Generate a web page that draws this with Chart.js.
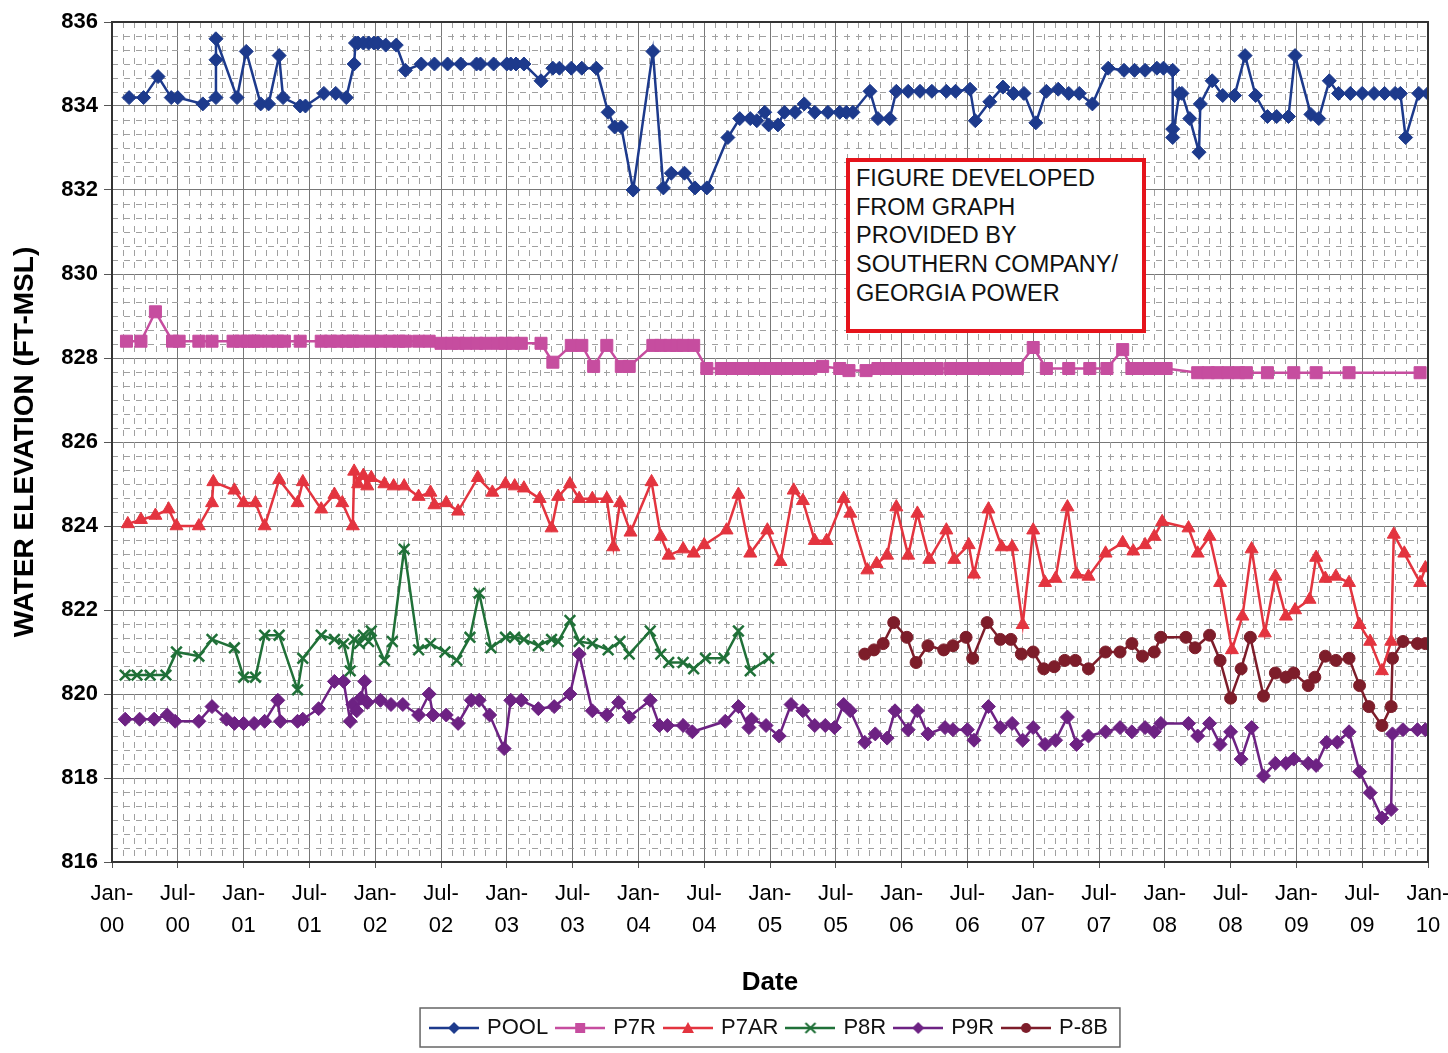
<!DOCTYPE html>
<html>
<head>
<meta charset="utf-8">
<title>Water elevation</title>
<script src="https://cdn.jsdelivr.net/npm/chart.js@4.4.1/dist/chart.umd.min.js"></script>
<style>
  body { margin: 0; background: #fff; }
  #wrap { position: relative; width: 1448px; height: 1053px; }
  #note {
    position: absolute; left: 846px; top: 158px; width: 300px; height: 175px;
    box-sizing: border-box; border: 4px solid #e5131b; background: #fff;
    font: 23.5px 'Liberation Sans', Arial, sans-serif; line-height: 28.7px;
    padding: 2px 0 0 6px; color: #111; white-space: nowrap;
  }
</style>
</head>
<body>
<div id="wrap">
  <canvas id="levelChart"></canvas>
  <div id="note">FIGURE DEVELOPED<br>FROM GRAPH<br>PROVIDED BY<br>SOUTHERN COMPANY/<br>GEORGIA POWER</div>
</div>
<script>
// dates are decimal years, levels are ft-MSL
const poolDates = [2000.13, 2000.24, 2000.35, 2000.45, 2000.50, 2000.69, 2000.79, 2000.79, 2000.79, 2000.95,
  2001.02, 2001.13, 2001.19, 2001.27, 2001.30, 2001.43, 2001.47, 2001.61, 2001.70, 2001.78,
  2001.84, 2001.85, 2001.87, 2001.91, 2001.95, 2001.99, 2002.02, 2002.08, 2002.16, 2002.23,
  2002.35, 2002.45, 2002.55, 2002.65, 2002.77, 2002.80, 2002.90, 2003.00, 2003.03, 2003.07, 2003.13,
  2003.26, 2003.35, 2003.40, 2003.49, 2003.57, 2003.68, 2003.77, 2003.82, 2003.87, 2003.96,
  2004.11, 2004.19, 2004.25, 2004.35, 2004.43, 2004.52,
  2004.68, 2004.77, 2004.85, 2004.90, 2004.96, 2004.99, 2005.06, 2005.11,
  2005.19, 2005.26, 2005.34, 2005.44, 2005.53, 2005.58, 2005.63,
  2005.76, 2005.82, 2005.91, 2005.96,
  2006.05, 2006.14, 2006.23, 2006.34, 2006.41,
  2006.52, 2006.56, 2006.67, 2006.77, 2006.85, 2006.93,
  2007.02, 2007.10, 2007.19, 2007.27, 2007.35, 2007.45,
  2007.57, 2007.69, 2007.77, 2007.85, 2007.94, 2007.99,
  2008.06, 2008.06, 2008.06,
  2008.11, 2008.13, 2008.19, 2008.26, 2008.27, 2008.36, 2008.44, 2008.53,
  2008.61, 2008.69, 2008.78, 2008.85, 2008.94, 2008.99,
  2009.11, 2009.17, 2009.25, 2009.32,
  2009.41, 2009.50, 2009.59, 2009.67, 2009.75, 2009.79,
  2009.83, 2009.93, 2010.00];
const poolLevels = [834.2, 834.2, 834.7, 834.2, 834.2, 834.05, 834.2, 835.1, 835.6, 834.2,
  835.3, 834.05, 834.05, 835.2, 834.2, 834.0, 834.0, 834.3, 834.3, 834.2,
  835.0, 835.5, 835.5, 835.5, 835.5, 835.5, 835.5, 835.45, 835.45, 834.85,
  835.0, 835.0, 835.0, 835.0, 835.0, 835.0, 835.0, 835.0, 835.0, 835.0, 835.0,
  834.6, 834.9, 834.9, 834.9, 834.9, 834.9, 833.85, 833.5, 833.5, 832.0,
  835.3, 832.05, 832.4, 832.4, 832.05, 832.05,
  833.25, 833.7, 833.7, 833.65, 833.85, 833.55, 833.55, 833.85,
  833.85, 834.05, 833.85, 833.85, 833.85, 833.85, 833.85,
  834.35, 833.7, 833.7, 834.35,
  834.35, 834.35, 834.35, 834.35, 834.35,
  834.4, 833.65, 834.1, 834.45, 834.3, 834.3,
  833.6, 834.35, 834.4, 834.3, 834.3, 834.05,
  834.9, 834.85, 834.85, 834.85, 834.9, 834.9,
  834.85, 833.45, 833.25,
  834.3, 834.3, 833.7, 832.9, 834.05, 834.6, 834.25, 834.25,
  835.2, 834.25, 833.75, 833.75, 833.75, 835.2,
  833.8, 833.7, 834.6, 834.3,
  834.3, 834.3, 834.3, 834.3, 834.3, 834.3,
  833.25, 834.3, 834.3];

const p7rDates = [2000.11, 2000.22, 2000.33, 2000.46, 2000.51, 2000.66, 2000.76, 2000.92, 2000.98,
  2001.03, 2001.08, 2001.11, 2001.19, 2001.26, 2001.31, 2001.43, 2001.59, 2001.66, 2001.72, 2001.78, 2001.83, 2001.89, 2001.98,
  2002.04, 2002.11, 2002.18, 2002.23, 2002.33, 2002.41,
  2002.50, 2002.58, 2002.63, 2002.69, 2002.77, 2002.84, 2002.93, 2002.99, 2003.05, 2003.11, 2003.26,
  2003.35, 2003.49, 2003.57, 2003.66, 2003.76, 2003.87, 2003.93,
  2004.11, 2004.17, 2004.24, 2004.29, 2004.34, 2004.42, 2004.52,
  2004.63, 2004.71, 2004.78, 2004.86, 2004.93, 2005.01, 2005.09, 2005.16, 2005.24, 2005.31,
  2005.40, 2005.53, 2005.60, 2005.73,
  2005.82, 2005.91, 2006.00, 2006.09, 2006.18, 2006.27, 2006.37, 2006.46, 2006.55, 2006.64, 2006.73, 2006.82, 2006.88,
  2007.00, 2007.10, 2007.27, 2007.43, 2007.56, 2007.68, 2007.75, 2007.84, 2007.93, 2008.01,
  2008.25, 2008.33, 2008.40, 2008.48, 2008.56, 2008.62, 2008.78, 2008.98, 2009.15, 2009.40, 2009.94];
const p7rLevels = [828.4, 828.4, 829.1, 828.4, 828.4, 828.4, 828.4, 828.4, 828.4,
  828.4, 828.4, 828.4, 828.4, 828.4, 828.4, 828.4, 828.4, 828.4, 828.4, 828.4, 828.4, 828.4, 828.4,
  828.4, 828.4, 828.4, 828.4, 828.4, 828.4,
  828.35, 828.35, 828.35, 828.35, 828.35, 828.35, 828.35, 828.35, 828.35, 828.35, 828.35,
  827.9, 828.3, 828.3, 827.8, 828.3, 827.8, 827.8,
  828.3, 828.3, 828.3, 828.3, 828.3, 828.3, 827.75,
  827.75, 827.75, 827.75, 827.75, 827.75, 827.75, 827.75, 827.75, 827.75, 827.75,
  827.8, 827.75, 827.7, 827.7,
  827.75, 827.75, 827.75, 827.75, 827.75, 827.75, 827.75, 827.75, 827.75, 827.75, 827.75, 827.75, 827.75,
  828.25, 827.75, 827.75, 827.75, 827.75, 828.2, 827.75, 827.75, 827.75, 827.75,
  827.65, 827.65, 827.65, 827.65, 827.65, 827.65, 827.65, 827.65, 827.65, 827.65, 827.65];

const p7arDates = [2000.12, 2000.22, 2000.33, 2000.43, 2000.49, 2000.66, 2000.76, 2000.77, 2000.93,
  2001.00, 2001.09, 2001.16, 2001.27, 2001.41, 2001.45, 2001.59, 2001.69, 2001.75, 2001.83, 2001.84, 2001.87, 2001.91, 2001.94, 2001.97,
  2002.07, 2002.14, 2002.22, 2002.33, 2002.42, 2002.45, 2002.54, 2002.63, 2002.78, 2002.89, 2002.99,
  2003.06, 2003.13, 2003.25, 2003.34, 2003.39, 2003.48, 2003.55, 2003.65, 2003.76, 2003.81, 2003.86, 2003.94,
  2004.10, 2004.17, 2004.23, 2004.34, 2004.42, 2004.50, 2004.67, 2004.76, 2004.85, 2004.98,
  2005.08, 2005.18, 2005.25, 2005.34, 2005.43, 2005.56, 2005.61, 2005.74, 2005.81, 2005.89, 2005.96,
  2006.05, 2006.12, 2006.21, 2006.34, 2006.40, 2006.51, 2006.55, 2006.66, 2006.76, 2006.84, 2006.92,
  2007.00, 2007.09, 2007.17, 2007.26, 2007.33, 2007.42, 2007.55, 2007.68, 2007.76, 2007.85, 2007.92, 2007.98,
  2008.18, 2008.25, 2008.34, 2008.42, 2008.51, 2008.59, 2008.66, 2008.76, 2008.84, 2008.92, 2008.99,
  2009.10, 2009.15, 2009.22, 2009.30, 2009.40, 2009.48, 2009.56, 2009.65, 2009.72, 2009.74, 2009.82, 2009.94, 2009.98];
const p7arLevels = [824.05, 824.15, 824.25, 824.4, 824.0, 824.0, 824.55, 825.05, 824.85,
  824.55, 824.55, 824.0, 825.1, 824.55, 825.05, 824.4, 824.75, 824.55, 824.0, 825.3, 825.0, 825.2, 824.95, 825.15,
  825.0, 824.95, 824.95, 824.7, 824.8, 824.5, 824.55, 824.35, 825.15, 824.8, 825.0,
  824.95, 824.9, 824.65, 823.95, 824.7, 825.0, 824.65, 824.65, 824.65, 823.5, 824.55, 823.85,
  825.05, 823.75, 823.3, 823.45, 823.35, 823.55, 823.9, 824.75, 823.35, 823.9,
  823.15, 824.85, 824.6, 823.65, 823.65, 824.65, 824.3, 822.95, 823.1, 823.3, 824.45,
  823.3, 824.3, 823.2, 823.9, 823.2, 823.55, 822.85, 824.4, 823.5, 823.5, 821.65,
  823.9, 822.65, 822.75, 824.45, 822.85, 822.8, 823.35, 823.6, 823.4, 823.55, 823.75, 824.1,
  823.95, 823.35, 823.75, 822.65, 821.05, 821.85, 823.45, 821.45, 822.8, 821.85, 822.0,
  822.25, 823.25, 822.75, 822.8, 822.65, 821.65, 821.25, 820.55, 821.25, 823.8, 823.35, 822.65, 823.0];

const p8rDates = [2000.10, 2000.19, 2000.29, 2000.41, 2000.49, 2000.66, 2000.76, 2000.93,
  2001.00, 2001.09, 2001.16, 2001.27, 2001.41, 2001.45, 2001.59, 2001.69, 2001.76, 2001.81, 2001.84, 2001.88, 2001.91, 2001.95, 2001.97,
  2002.07, 2002.13, 2002.22, 2002.33, 2002.42, 2002.53, 2002.62, 2002.72, 2002.79, 2002.88, 2002.99,
  2003.06, 2003.13, 2003.24, 2003.34, 2003.39, 2003.48, 2003.55, 2003.65, 2003.77, 2003.86, 2003.93,
  2004.09, 2004.17, 2004.23, 2004.34, 2004.42, 2004.51, 2004.65, 2004.76, 2004.85, 2004.99];
const p8rLevels = [820.45, 820.45, 820.45, 820.45, 821.0, 820.9, 821.3, 821.1,
  820.4, 820.4, 821.4, 821.4, 820.1, 820.85, 821.4, 821.3, 821.2, 820.55, 821.3, 821.2, 821.4, 821.25, 821.5,
  820.8, 821.25, 823.45, 821.05, 821.2, 821.0, 820.8, 821.35, 822.4, 821.1, 821.35,
  821.35, 821.3, 821.15, 821.3, 821.25, 821.75, 821.25, 821.2, 821.05, 821.25, 820.95,
  821.5, 820.95, 820.75, 820.75, 820.6, 820.85, 820.85, 821.5, 820.55, 820.85];

const p9rDates = [2000.10, 2000.21, 2000.32, 2000.42, 2000.48, 2000.66, 2000.76, 2000.87, 2000.93,
  2001.00, 2001.08, 2001.16, 2001.26, 2001.28, 2001.41, 2001.45, 2001.57, 2001.69, 2001.76, 2001.81, 2001.83, 2001.86, 2001.89, 2001.92, 2001.94,
  2002.04, 2002.12, 2002.21, 2002.33, 2002.41, 2002.44, 2002.54, 2002.63, 2002.73, 2002.79, 2002.87, 2002.98,
  2003.03, 2003.11, 2003.24, 2003.36, 2003.48, 2003.55, 2003.65, 2003.76, 2003.85, 2003.93,
  2004.09, 2004.16, 2004.22, 2004.34, 2004.41, 2004.66, 2004.76, 2004.84, 2004.86, 2004.97,
  2005.07, 2005.16, 2005.25, 2005.34, 2005.42, 2005.49, 2005.56, 2005.61, 2005.72, 2005.80, 2005.89, 2005.95,
  2006.05, 2006.12, 2006.20, 2006.33, 2006.39, 2006.50, 2006.55, 2006.66, 2006.75, 2006.84, 2006.92,
  2007.00, 2007.09, 2007.17, 2007.26, 2007.33, 2007.42, 2007.55, 2007.66, 2007.75, 2007.85, 2007.92, 2007.97,
  2008.18, 2008.25, 2008.34, 2008.42, 2008.50, 2008.58, 2008.66, 2008.75, 2008.84, 2008.92, 2008.98,
  2009.09, 2009.15, 2009.23, 2009.31, 2009.40, 2009.48, 2009.56, 2009.65, 2009.72, 2009.73, 2009.81, 2009.92, 2009.98];
const p9rLevels = [819.4, 819.4, 819.4, 819.5, 819.35, 819.35, 819.7, 819.4, 819.3,
  819.3, 819.3, 819.35, 819.85, 819.35, 819.35, 819.4, 819.65, 820.3, 820.3, 819.35, 819.75, 819.6, 819.9, 820.3, 819.8,
  819.85, 819.75, 819.75, 819.5, 820.0, 819.5, 819.5, 819.3, 819.85, 819.85, 819.5, 818.7,
  819.85, 819.85, 819.65, 819.7, 820.0, 820.95, 819.6, 819.5, 819.8, 819.45,
  819.85, 819.25, 819.25, 819.25, 819.1, 819.35, 819.7, 819.2, 819.4, 819.25,
  819.0, 819.75, 819.6, 819.25, 819.25, 819.2, 819.75, 819.6, 818.85, 819.05, 818.95, 819.6,
  819.15, 819.6, 819.05, 819.2, 819.15, 819.15, 818.9, 819.7, 819.2, 819.3, 818.9,
  819.2, 818.8, 818.9, 819.45, 818.8, 819.0, 819.1, 819.2, 819.1, 819.2, 819.1, 819.3,
  819.3, 819.0, 819.3, 818.8, 819.1, 818.45, 819.2, 818.05, 818.35, 818.35, 818.45,
  818.35, 818.3, 818.85, 818.85, 819.1, 818.15, 817.65, 817.05, 817.25, 819.05, 819.15, 819.15, 819.15];

const p8bDates = [2005.72, 2005.79, 2005.86, 2005.94,
  2006.04, 2006.11, 2006.20, 2006.32, 2006.39, 2006.49, 2006.54, 2006.65, 2006.75, 2006.83, 2006.91,
  2007.00, 2007.08, 2007.16, 2007.24, 2007.32, 2007.42, 2007.55, 2007.66, 2007.75, 2007.83, 2007.92, 2007.97,
  2008.16, 2008.23, 2008.34, 2008.42, 2008.50, 2008.58, 2008.65, 2008.75, 2008.84, 2008.92, 2008.98,
  2009.09, 2009.14, 2009.22, 2009.30, 2009.40, 2009.48, 2009.55, 2009.65, 2009.72, 2009.73, 2009.81, 2009.92, 2009.98];
const p8bLevels = [820.95, 821.05, 821.2, 821.7,
  821.35, 820.75, 821.15, 821.05, 821.15, 821.35, 820.85, 821.7, 821.3, 821.3, 820.95,
  821.0, 820.6, 820.65, 820.8, 820.8, 820.6, 821.0, 821.0, 821.2, 820.9, 821.0, 821.35,
  821.35, 821.1, 821.4, 820.8, 819.9, 820.6, 821.35, 819.95, 820.5, 820.4, 820.5,
  820.2, 820.4, 820.9, 820.8, 820.85, 820.2, 819.7, 819.25, 819.7, 820.85, 821.25, 821.2, 821.2];

const seriesNames = ['POOL', 'P7R', 'P7AR', 'P8R', 'P9R', 'P-8B'];
const seriesColors = ['#1d3a8c', '#c64d9f', '#e3343f', '#207038', '#6d2283', '#7d1d2a'];

function series(i, dates, levels, style, radius, pbw) {
  return {
    label: seriesNames[i],
    data: dates.map((d, k) => ({x: d, y: levels[k]})),
    borderColor: seriesColors[i],
    backgroundColor: seriesColors[i],
    pointBackgroundColor: seriesColors[i],
    pointBorderColor: seriesColors[i],
    borderWidth: 2.5,
    pointStyle: style,
    pointRadius: radius,
    pointBorderWidth: pbw,
    tension: 0,
    fill: false
  };
}

// little line+marker pictures for the legend
function legendIcon(color, shape) {
  const c = document.createElement('canvas');
  c.width = 50; c.height = 16;
  const g = c.getContext('2d');
  g.strokeStyle = color; g.fillStyle = color; g.lineWidth = 2.5;
  g.beginPath(); g.moveTo(0, 8); g.lineTo(50, 8); g.stroke();
  g.beginPath();
  if (shape === 'diamond') {
    g.moveTo(25, 2); g.lineTo(31, 8); g.lineTo(25, 14); g.lineTo(19, 8); g.closePath(); g.fill();
  } else if (shape === 'square') {
    g.fillRect(20, 3, 10, 10);
  } else if (shape === 'triangle') {
    g.moveTo(25, 2); g.lineTo(31, 13); g.lineTo(19, 13); g.closePath(); g.fill();
  } else if (shape === 'x') {
    g.lineWidth = 2;
    g.moveTo(20, 3); g.lineTo(30, 13); g.moveTo(30, 3); g.lineTo(20, 13); g.stroke();
  } else {
    g.arc(25, 8, 5, 0, Math.PI * 2); g.fill();
  }
  return c;
}
const legendIcons = [
  legendIcon(seriesColors[0], 'diamond'),
  legendIcon(seriesColors[1], 'square'),
  legendIcon(seriesColors[2], 'triangle'),
  legendIcon(seriesColors[3], 'x'),
  legendIcon(seriesColors[4], 'diamond'),
  legendIcon(seriesColors[5], 'circle')
];

const paperGrid = {
  id: 'paperGrid',
  afterLayout(chart) {
    // centre the legend under the plot, not the whole canvas
    const lg = chart.legend, a = chart.chartArea;
    lg.left = a.left; lg.right = a.right; lg.width = a.right - a.left;
  },
  beforeDatasetsDraw(chart) {
    const {ctx, chartArea: a, scales: {x, y}} = chart;
    ctx.save();
    ctx.strokeStyle = '#a0a0a0';
    ctx.lineWidth = 1;
    ctx.setLineDash([6, 6]);
    ctx.beginPath();
    for (let m = 1; m < 120; m++) {
      if (m % 6 === 0) continue;
      const px = Math.round(x.getPixelForValue(2000 + m / 12)) + 0.5;
      ctx.moveTo(px, a.top); ctx.lineTo(px, a.bottom);
    }
    for (let k = 1; k < 60; k++) {
      if (k % 6 === 0) continue;
      const py = Math.round(y.getPixelForValue(816 + k / 3)) + 0.5;
      ctx.moveTo(a.left, py); ctx.lineTo(a.right, py);
    }
    ctx.stroke();
    ctx.restore();
  },
  afterDraw(chart) {
    const {ctx, chartArea: a} = chart;
    ctx.save();
    ctx.strokeStyle = '#333';
    ctx.lineWidth = 2;
    ctx.strokeRect(a.left, a.top, a.right - a.left, a.bottom - a.top);
    const lg = chart.legend;
    const w = lg.lineWidths[0] - lg.options.labels.padding;
    const cx = (lg.left + lg.right) / 2;
    ctx.strokeStyle = '#666';
    ctx.lineWidth = 1.5;
    ctx.strokeRect(cx - w / 2 - 12, lg.top + 1, w + 24, lg.height - 3);
    ctx.restore();
  }
};

Chart.defaults.font.family = "'Liberation Sans', Arial, sans-serif";
Chart.defaults.color = '#000';

new Chart(document.getElementById('levelChart'), {
  type: 'line',
  data: {
    datasets: [
      series(0, poolDates, poolLevels, 'rectRot', 7, 1),
      series(1, p7rDates, p7rLevels, 'rect', 8.5, 1),
      series(2, p7arDates, p7arLevels, 'triangle', 7.5, 1),
      series(3, p8rDates, p8rLevels, 'crossRot', 7.5, 2.5),
      series(4, p9rDates, p9rLevels, 'rectRot', 7, 1),
      series(5, p8bDates, p8bLevels, 'circle', 6, 1)
    ]
  },
  options: {
    responsive: true,
    maintainAspectRatio: false,
    animation: false,
    events: [],
    layout: { padding: { top: 22, right: 20, bottom: 4, left: 0 } },
    scales: {
      x: {
        type: 'linear',
        min: 2000,
        max: 2010,
        afterFit(s) { s.height = 145; s.paddingRight = 20; },
        ticks: {
          stepSize: 0.5,
          autoSkip: false,
          maxRotation: 0,
          minRotation: 0,
          padding: 10,
          font: { size: 22, lineHeight: 1.45 },
          callback(v) {
            const yr = Math.floor(v + 1e-6);
            const half = v - yr > 0.25;
            return [half ? 'Jul-' : 'Jan-', String(yr % 100).padStart(2, '0')];
          }
        },
        grid: { color: '#777', lineWidth: 1, tickLength: 6, tickColor: '#555' },
        border: { display: false },
        title: { display: true, text: 'Date', font: { size: 26, weight: 'bold' }, padding: { top: 0, bottom: 9 } }
      },
      y: {
        min: 816,
        max: 836,
        afterFit(s) { s.width = 112; },
        ticks: { stepSize: 2, padding: 6, font: { size: 22, weight: 'bold' } },
        grid: { color: '#777', lineWidth: 1, tickLength: 8, tickColor: '#555' },
        border: { display: false },
        title: { display: true, text: 'WATER ELEVATION (FT-MSL)', font: { size: 28, weight: 'bold' }, padding: { top: 8, bottom: 0 } }
      }
    },
    plugins: {
      tooltip: { enabled: false },
      legend: {
        position: 'bottom',
        labels: {
          usePointStyle: true,
          pointStyleWidth: 44,
          padding: 10,
          font: { size: 22 },
          color: '#111',
          generateLabels(chart) {
            const items = Chart.defaults.plugins.legend.labels.generateLabels(chart);
            items.forEach((it, i) => { it.pointStyle = legendIcons[i]; });
            return items;
          }
        }
      }
    }
  },
  plugins: [paperGrid]
});
</script>
</body>
</html>
